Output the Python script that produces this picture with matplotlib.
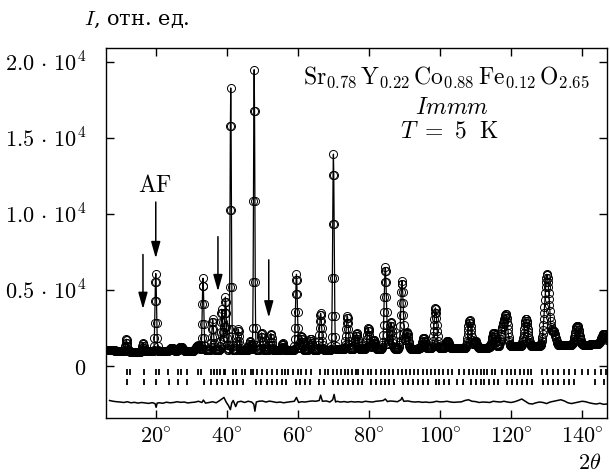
import numpy as np
import matplotlib.pyplot as plt

plt.rcParams['mathtext.fontset'] = 'cm'
plt.rcParams['font.family'] = ['DejaVu Serif']

# фон (2theta, интенсивность)
fon_x = [6, 10, 15, 20, 25, 30, 35, 40, 50, 60, 70, 80, 90, 100, 110, 120, 130, 140, 147]
fon_y = [1100, 1000, 950, 1000, 950, 1000, 1050, 1050, 1050, 1050, 1100, 1150, 1150,
         1200, 1200, 1300, 1350, 1400, 1500]

# пики: положение, высота над фоном, ширина (FWHM)
pik_x = [11.7, 16.4, 20.0, 24.5, 27.0, 31.8, 33.3, 36.0, 38.6, 39.6, 41.1, 43.2, 46.5,
         47.7, 49.8, 52.4, 55.7, 59.6, 61.0, 63.6, 66.4, 70.0, 73.9, 76.5, 79.8, 81.3,
         84.6, 86.2, 89.3, 90.7, 95.4, 98.7, 102.1, 108.3, 109.9, 115.1, 117.6, 118.6,
         124.2, 130.1, 132.0, 138.6, 146.1]
pik_h = [800, 550, 5100, 250, 300, 350, 4750, 2050, 2700, 3500, 17250, 1400, 600,
         18450, 1150, 1100, 450, 5000, 950, 750, 2400, 12850, 2200, 1050, 1400, 600,
         5350, 1750, 4450, 1100, 700, 2650, 450, 1850, 450, 950, 1200, 2000,
         1800, 4700, 900, 1250, 650]
pik_w = [0.55, 0.55, 0.5, 1.4, 1.4, 1.2, 0.5, 0.55, 0.55, 0.55, 0.42, 0.55, 0.6,
         0.42, 0.6, 0.6, 0.65, 0.6, 0.65, 0.7, 0.7, 0.5, 0.7, 0.75, 0.75, 0.8,
         0.75, 0.8, 0.8, 0.85, 0.9, 0.9, 0.95, 1.0, 1.0, 1.1, 1.1, 1.1,
         1.2, 1.5, 1.3, 1.4, 1.5]

# штрих-метки брэгговских отражений
bragg1 = [11.9, 12.7, 16.6, 20.2, 20.8, 23.5, 26.2, 27.0, 28.8, 31.9, 32.6, 35.6, 36.3,
          37.3, 38.2, 39.2, 39.6, 41.6, 42.5, 44.4, 45.1, 46.7, 47.4, 48.4, 49.8, 51.2,
          52.6, 54.0, 55.4, 56.3, 57.3, 58.7, 60.1, 61.0, 62.3, 63.7, 66.2, 67.6, 68.5,
          69.9, 70.9, 72.1, 73.2, 74.2, 75.1, 76.3, 76.8, 78.2, 79.6, 80.6, 82.0, 83.4,
          84.6, 85.7, 86.8, 88.1, 89.3, 90.4, 91.5, 92.7, 93.9, 95.1, 96.2, 97.5, 98.7,
          99.8, 100.9, 102.2, 103.4, 105.4, 106.8, 108.1, 109.2, 110.3, 111.5, 112.3,
          113.2, 114.5, 115.6, 117.5, 118.9, 120.1, 121.2, 122.4, 123.6, 124.7, 125.7,
          128.7, 130.1, 131.7, 133.2, 134.8, 136.4, 138.1, 140.0, 141.7, 143.6, 145.4, 146.8]
bragg2 = [11.9, 16.6, 20.2, 23.7, 26.2, 28.8, 33.5, 35.6, 37.3, 38.7, 40.3, 41.6, 42.9,
          44.6, 48.2, 49.6, 51.2, 52.6, 54.0, 55.4, 56.6, 59.4, 60.6, 62.0, 63.4, 66.0,
          67.4, 69.9, 71.4, 72.8, 74.2, 75.6, 76.8, 78.0, 80.6, 82.0, 83.4, 84.6, 85.7,
          87.1, 89.5, 90.9, 92.3, 93.7, 95.1, 96.5, 98.9, 99.8, 101.2, 102.6, 104.8, 106.4,
          108.7, 110.1, 111.5, 112.3, 113.7, 115.1, 116.3, 118.9, 120.3, 121.7, 123.1,
          124.5, 125.9, 128.9, 130.4, 131.7, 133.2, 134.8, 136.2, 137.6, 143.7, 146.1]

# разностная кривая
diff_x = [7, 8, 9, 10, 11, 12, 13, 14, 15, 16, 17, 18, 19, 19.8, 20.1, 20.4, 21, 22, 23,
          24, 25, 26, 27, 28, 29, 30, 31, 32, 33, 33.4, 34, 35, 36, 37, 38, 39.2, 39.8,
          40.5, 41.0, 41.4, 41.8, 42.5, 43, 44, 45, 46, 47, 47.6, 47.9, 48.3, 49, 50, 51,
          52, 53, 54, 55, 56, 57, 58, 59, 59.6, 60.2, 61, 62, 63, 64, 65, 66, 66.4, 66.9,
          68, 69, 69.8, 70.2, 70.6, 71, 72, 73, 74, 75, 76, 77, 78, 79, 80, 81, 82, 83, 84,
          84.6, 85.2, 86, 87, 88, 89, 89.3, 89.8, 91, 92, 93, 94, 95, 96, 97, 98, 99, 100,
          101, 102, 103, 104, 105, 106, 107, 108, 109, 110, 111, 112, 113, 114, 115, 116,
          117, 118, 119, 120, 121, 122, 123, 124, 125, 126, 127, 128, 129, 130, 131, 132,
          133, 134, 135, 136, 137, 138, 139, 140, 141, 142, 143, 144, 145, 146, 147]
diff_y = [-2250, -2300, -2330, -2350, -2380, -2330, -2400, -2370, -2420, -2380, -2410,
          -2440, -2390, -2450, -2700, -2420, -2400, -2430, -2360, -2400, -2380, -2330,
          -2370, -2350, -2410, -2380, -2360, -2300, -2380, -2220, -2420, -2380, -2330,
          -2400, -2250, -2050, -2350, -2600, -2850, -2400, -2250, -2650, -2350, -2300,
          -2380, -2300, -2350, -2500, -2950, -2350, -2300, -2280, -2350, -2290, -2330,
          -2380, -2350, -2400, -2360, -2330, -2300, -2050, -2380, -2330, -2350, -2310,
          -2280, -2300, -2250, -1900, -2300, -2280, -2350, -2200, -1850, -2350, -2300,
          -2350, -2320, -2360, -2320, -2350, -2330, -2360, -2300, -2330, -2350, -2300,
          -2280, -2250, -2150, -2320, -2280, -2300, -2330, -2200, -2050, -2300, -2280,
          -2330, -2350, -2330, -2370, -2350, -2380, -2360, -2300, -2340, -2330, -2300,
          -2350, -2370, -2350, -2340, -2250, -2200, -2300, -2320, -2380, -2350, -2360,
          -2380, -2300, -2330, -2350, -2300, -2350, -2380, -2330, -2250, -2150, -2300,
          -2450, -2480, -2400, -2350, -2380, -2450, -2350, -2300, -2250, -2200, -2280,
          -2400, -2450, -2400, -2350, -2300, -2330, -2400, -2450, -2480, -2430, -2500,
          -2480]

# стрелки: x, начало, конец
strelki_x = [16.4, 20.0, 37.5, 51.8]
strelki_y0 = [7350, 10800, 8520, 7000]
strelki_y1 = [3760, 7100, 4930, 3200]


def profil(tt):
    y = np.interp(tt, fon_x, fon_y)
    for x0, h, w in zip(pik_x, pik_h, pik_w):
        s = w / 2.3548
        y = y + h * np.exp(-0.5 * ((tt - x0) / s) ** 2)
    return y


fig = plt.figure(figsize=(6.1, 4.75), dpi=100)
ax = fig.add_axes([0.1738, 0.12, 0.8213, 0.779])

tt = np.arange(6.0, 147.05, 0.1)
calc = profil(tt)
ax.plot(tt, calc, 'o', ms=5.8, mfc='none', mec='k', mew=0.7)
ax.plot(tt, calc, '-', color='k', lw=0.9)

ax.plot(bragg1, [-350] * len(bragg1), '|', color='k', ms=5, mew=1.3)
ax.plot(bragg2, [-1020] * len(bragg2), '|', color='k', ms=5, mew=1.3)
ax.plot(diff_x, diff_y, '-', color='k', lw=1.1)

for x, y0, y1 in zip(strelki_x, strelki_y0, strelki_y1):
    ax.annotate('', xy=(x, y1), xytext=(x, y0),
                arrowprops=dict(arrowstyle='-|>,head_length=1.0,head_width=0.28',
                                color='k', lw=1.1, shrinkA=0, shrinkB=0))
ax.text(19.7, 11900, r'$\mathrm{AF}$', fontsize=17, ha='center', va='center')

ax.text(0.68, 0.92, r'$\mathrm{Sr_{0.78}\,Y_{0.22}\,Co_{0.88}\,Fe_{0.12}\,O_{2.65}}$',
        transform=ax.transAxes, fontsize=17, ha='center', va='center')
ax.text(0.69, 0.84, r'$Immm$', transform=ax.transAxes, fontsize=17,
        ha='center', va='center')
ax.text(0.685, 0.775, r'$T\ =\ 5\ \ \mathrm{K}$', transform=ax.transAxes, fontsize=17,
        ha='center', va='center')

ax.set_xlim(6, 147)
ax.set_ylim(-3400, 20930)
ax.set_xticks(range(20, 141, 20))
ax.set_xticklabels([r'$%d\!^\circ$' % v for v in range(20, 141, 20)], fontsize=16)
ax.set_yticks([0, 5000, 10000, 15000, 20000])
ax.set_yticklabels(['$0$', r'$0.5\,\cdot\,10^4$', r'$1.0\,\cdot\,10^4$',
                    r'$1.5\,\cdot\,10^4$', r'$2.0\,\cdot\,10^4$'], fontsize=16)
ax.tick_params(direction='in', length=6, width=1, top=True, right=True)
ax.tick_params(axis='y', pad=14)
ax.tick_params(axis='x', pad=6)
for sp in ax.spines.values():
    sp.set_linewidth(1.0)

fig.text(0.2246, 0.958, r'$I$, отн. ед.', fontsize=15, ha='center', va='center')
fig.text(0.967, 0.025, r'$2\theta$', fontsize=16, ha='center', va='center')

fig.savefig('out.png', dpi=100)
